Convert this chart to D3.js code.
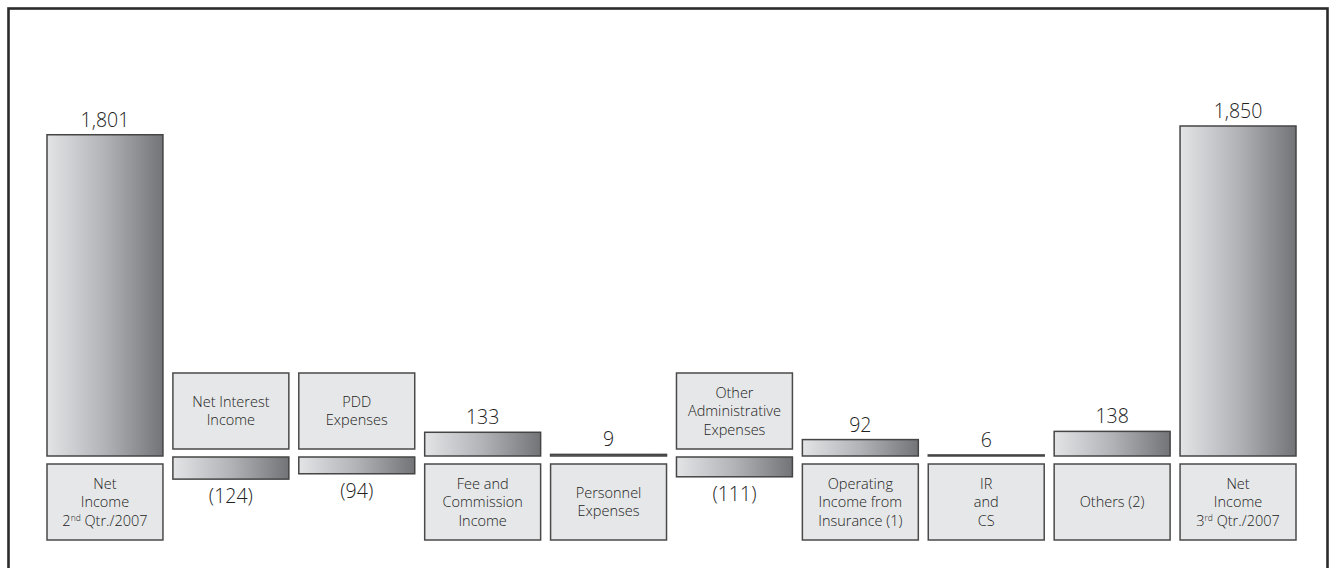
<!DOCTYPE html>
<html>
<head>
<meta charset="utf-8">
<script src="https://cdn.jsdelivr.net/npm/d3@7"></script>
<style>
  html, body { margin: 0; padding: 0; background: #fff; }
  svg { display: block; }
  text { font-family: "Open Sans", "Noto Sans", sans-serif; fill: #222; font-weight: 350; }
</style>
</head>
<body>
<svg id="chart" width="1330" height="568"></svg>
<script>
// ---- Data ----
const categories = [
  ["Net", "Income", "2|nd| Qtr./2007"],
  ["Net Interest", "Income"],
  ["PDD", "Expenses"],
  ["Fee and", "Commission", "Income"],
  ["Personnel", "Expenses"],
  ["Other", "Administrative", "Expenses"],
  ["Operating", "Income from", "Insurance (1)"],
  ["IR", "and", "CS"],
  ["Others (2)"],
  ["Net", "Income", "3|rd| Qtr./2007"]
];
const values = [1801, -124, -94, 133, 9, -111, 92, 6, 138, 1850];
const valueLabels = ["1,801", "(124)", "(94)", "133", "9", "(111)", "92", "6", "138", "1,850"];

// ---- Layout ----
const svg = d3.select("#chart");
const baseline = 456;
const x = d3.scaleBand().domain(d3.range(values.length)).range([47, 1296]).paddingInner(0.079).paddingOuter(0);
const y = d3.scaleLinear().domain([0, 1850]).range([baseline, baseline - 330]);
const hgt = v => Math.abs(y(v) - y(0));

const defs = svg.append("defs");
const grad = defs.append("linearGradient").attr("id", "barGrad").attr("x1", "0").attr("x2", "1").attr("y1", "0").attr("y2", "0");
grad.append("stop").attr("offset", "0%").attr("stop-color", "#e3e4e6");
grad.append("stop").attr("offset", "50%").attr("stop-color", "#b2b3b7");
grad.append("stop").attr("offset", "100%").attr("stop-color", "#737478");

// Frame
svg.append("rect").attr("x", 8.5).attr("y", 8.5).attr("width", 1319).attr("height", 600)
  .attr("fill", "none").attr("stroke", "#2b2b2b").attr("stroke-width", 2.6);

const g = svg.append("g");
const cols = g.selectAll("g.col").data(values).join("g").attr("class", "col");

// Bars
cols.append("rect")
  .attr("x", (d, i) => x(i))
  .attr("width", x.bandwidth())
  .attr("y", d => d >= 0 ? y(d) : baseline + 1)
  .attr("height", d => Math.max(hgt(d), 0.5))
  .attr("fill", "url(#barGrad)")
  .attr("stroke", "#454545")
  .attr("stroke-width", 1.5);

// Value labels
cols.append("text")
  .attr("x", (d, i) => x(i) + x.bandwidth() / 2)
  .attr("y", d => d >= 0 ? y(d) - 8 : baseline + 1 + hgt(d) + 24)
  .attr("text-anchor", "middle")
  .style("font-size", "19.5px")
  .text((d, i) => valueLabels[i]);

// Category boxes
const boxH = 76;
cols.append("rect")
  .attr("x", (d, i) => x(i))
  .attr("width", x.bandwidth())
  .attr("y", d => d >= 0 ? baseline + 8 : baseline - 7 - boxH)
  .attr("height", boxH)
  .attr("fill", "#e6e7e8")
  .attr("stroke", "#4a4a4a")
  .attr("stroke-width", 1.5);

const lineH = 18.5;
cols.each(function(d, i) {
  const lines = categories[i];
  const boxTop = d >= 0 ? baseline + 8 : baseline - 7 - boxH;
  const cy = boxTop + boxH / 2;
  const cx = x(i) + x.bandwidth() / 2;
  const t = d3.select(this).append("text")
    .attr("text-anchor", "middle")
    .style("font-size", "14.5px");
  lines.forEach((ln, k) => {
    const ly = cy + (k - (lines.length - 1) / 2) * lineH + 5;
    const parts = ln.split("|");
    if (parts.length === 1) {
      t.append("tspan").attr("x", cx).attr("y", ly).text(ln);
    } else {
      const line = t.append("tspan").attr("x", cx).attr("y", ly);
      line.append("tspan").text(parts[0]);
      line.append("tspan").attr("dy", -5).style("font-size", "8.5px").text(parts[1]);
      line.append("tspan").attr("dy", 5).text(parts[2]);
    }
  });
});
</script>
</body>
</html>
